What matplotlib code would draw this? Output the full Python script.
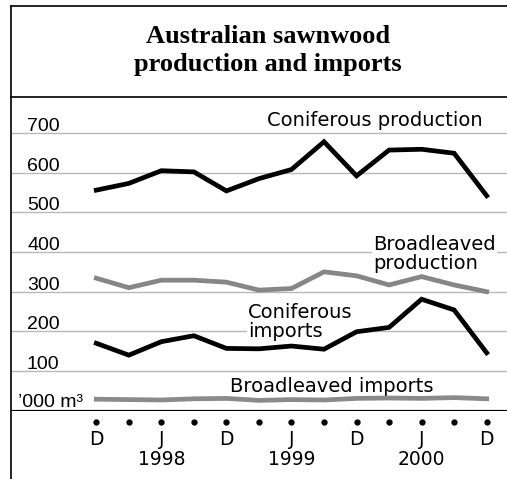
import numpy as np
import matplotlib
matplotlib.use('Agg')
from matplotlib import pyplot as plt
from matplotlib.lines import Line2D
from matplotlib.transforms import blended_transform_factory

# quarterly, Dec 1997 .. Dec 2000  ('000 m3)
months = ['D', '', 'J', '', 'D', '', 'J', '', 'D', '', 'J', '', 'D']
years = {2: '1998', 6: '1999', 10: '2000'}
conif_prod = [556, 573, 605, 602, 554, 585, 608, 678, 592, 657, 659, 649, 542]
broad_prod = [334, 310, 329, 329, 324, 304, 308, 350, 340, 317, 338, 317, 300]
conif_imp = [170, 140, 174, 189, 157, 156, 163, 155, 199, 210, 281, 254, 146]
broad_imp = [29, 28, 27, 30, 31, 26, 28, 27, 31, 32, 31, 33, 30]
yticks = [100, 200, 300, 400, 500, 600, 700]

W, H = 507, 479
fig = plt.figure(figsize=(W / 100, H / 100), dpi=100)
FONT = 'Liberation Sans'
LFONT = 'DejaVu Sans'

# axes: x from 12px to right edge, value 0 at 410.7px from top, top of axes at 100px
ax_bottom = H - 410.7
ax_top = H - 100
ax = fig.add_axes([12 / W, ax_bottom / H, 1 - 12 / W, (ax_top - ax_bottom) / H])
px_per_unit = 0.3967
ax.set_ylim(0, (ax_top - ax_bottom) / px_per_unit)
step = 32.53
ax.set_xlim((12 - 96.3) / step, (W - 96.3) / step)
ax.axis('off')

x = np.arange(len(months))

for v in yticks:
    ax.axhline(v, color='#b8b8b8', lw=1.0, zorder=1)
ax.axhline(0, color='black', lw=1.6, zorder=1)

lw = 3.4
ax.plot(x, conif_prod, color='black', lw=lw, solid_joinstyle='miter', zorder=3)
ax.plot(x, broad_prod, color='#868686', lw=lw, solid_joinstyle='miter', zorder=3)
ax.plot(x, conif_imp, color='black', lw=lw, solid_joinstyle='miter', zorder=3)
ax.plot(x, broad_imp, color='#8a8a8a', lw=lw, solid_joinstyle='miter', zorder=3)

# y tick labels, sitting above their gridlines
tr = blended_transform_factory(fig.transFigure, ax.transData)
for v in yticks:
    ax.text(27 / W, v + 5, str(v), transform=tr, fontsize=14, family=FONT,
            va='baseline', ha='left', zorder=4)
ax.text(18 / W, 8.5, '\u2019000 m\u00b3', transform=tr, fontsize=14, family=FONT,
        va='baseline', ha='left', zorder=4)

# series labels (white box hides gridlines but not the lines)
box = dict(facecolor='white', edgecolor='none', pad=1)
ax.text(8.57, 718, 'Coniferous production', fontsize=14, family=LFONT,
        ha='center', va='baseline', zorder=2)
ax.text(8.52, 358, 'Broadleaved\nproduction', fontsize=14, family=LFONT,
        ha='left', va='baseline', linespacing=1.0, bbox=box, zorder=2)
ax.text(4.66, 186.5, 'Coniferous\nimports', fontsize=14, family=LFONT,
        ha='left', va='baseline', linespacing=1.0, bbox=box, zorder=2)
ax.text(7.25, 48, 'Broadleaved imports', fontsize=14, family=LFONT,
        ha='center', va='baseline', zorder=2)

# x axis: dots and month / year labels
trx = blended_transform_factory(ax.transData, fig.transFigure)
ax.plot(x, [1 - 421.5 / H] * len(x), 'o', color='black', ms=3.5,
        transform=trx, clip_on=False)
for i, m in enumerate(months):
    if m:
        ax.text(i, 1 - 445 / H, m, transform=trx, fontsize=13.5, family=LFONT,
                ha='center', va='baseline')
for i, yr in years.items():
    ax.text(i, 1 - 465 / H, yr, transform=trx, fontsize=13.5, family=LFONT,
            ha='center', va='baseline')

# title
fig.text(268 / W, 1 - 43.5 / H, 'Australian sawnwood', fontsize=19,
         family='Liberation Serif', weight='bold', ha='center', va='baseline')
fig.text(268 / W, 1 - 71 / H, 'production and imports', fontsize=19,
         family='Liberation Serif', weight='bold', ha='center', va='baseline')

# frame lines
for xs, ys in [([11, W], [5.5, 5.5]), ([11, W], [97, 97]), ([11, 11], [5.5, H])]:
    fig.add_artist(Line2D([v / W for v in xs], [1 - v / H for v in ys],
                          color='black', lw=1.2))

fig.savefig('out.png', dpi=100)
